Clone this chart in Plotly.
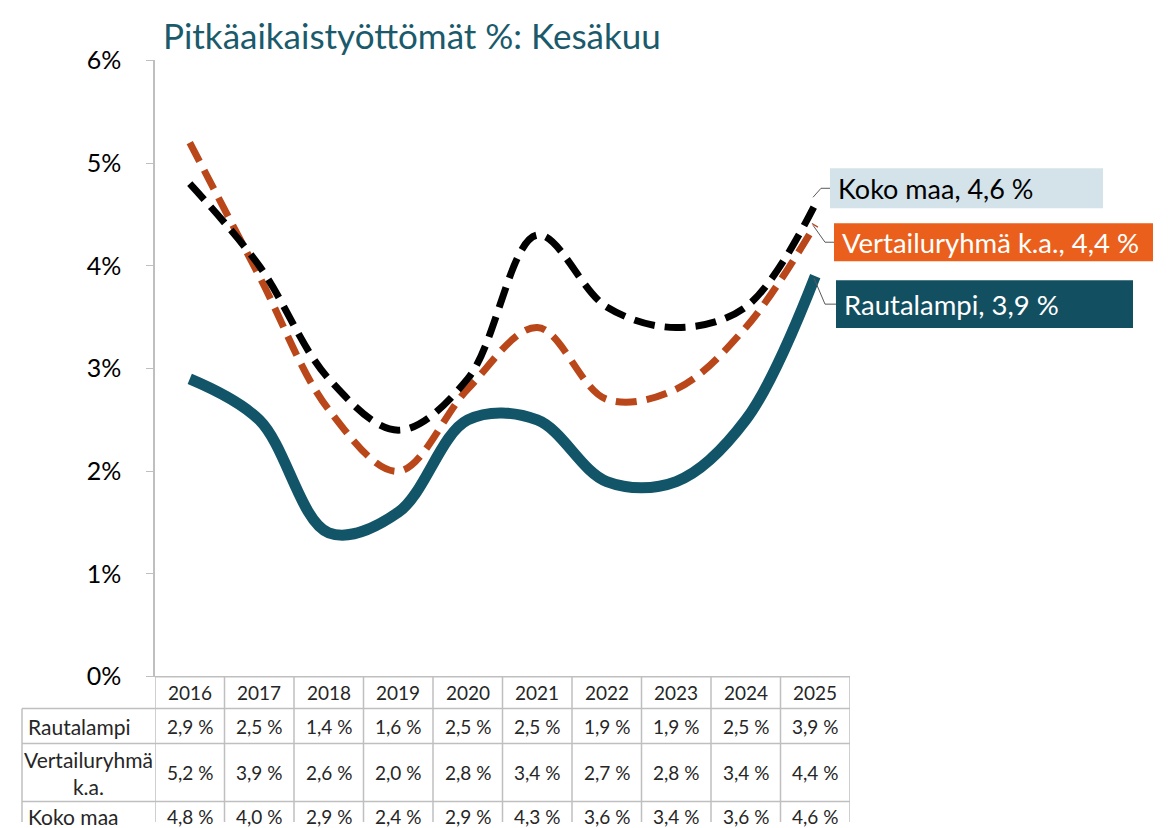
import plotly.graph_objects as go

years = ["2016", "2017", "2018", "2019", "2020", "2021", "2022", "2023", "2024", "2025"]
rautalampi = [2.9, 2.5, 1.4, 1.6, 2.5, 2.5, 1.9, 1.9, 2.5, 3.9]
vertailu = [5.2, 3.9, 2.6, 2.0, 2.8, 3.4, 2.7, 2.8, 3.4, 4.4]
koko_maa = [4.8, 4.0, 2.9, 2.4, 2.9, 4.3, 3.6, 3.4, 3.6, 4.6]
y_ticks = [0, 1, 2, 3, 4, 5, 6]
y_tick_text = ["0%", "1%", "2%", "3%", "4%", "5%", "6%"]

row_names = ["Rautalampi", "Vertailuryhmä<br>k.a.", "Koko maa"]
label_names = ["Rautalampi", "Vertailuryhmä k.a.", "Koko maa"]

W, H = 1168, 828
FONT = "Lato"
TEAL = "#124F60"
ORANGE_LINE = "#B9471A"
ORANGE_BOX = "#EA5F1B"
LIGHT_BOX = "#D4E3EA"
GRID = "#BFBFBF"

# screen-position helpers (page offset compensation)
def PX(x):
    return (x - 8) / W

def PY(y):
    return 1 - ((y - 21.5) / 0.965) / H

def fmt(v):
    return f"{v:.1f}".replace(".", ",") + " %"

idx = list(range(len(years)))

fig = go.Figure()
fig.add_trace(go.Scatter(x=idx, y=rautalampi, mode="lines", name=label_names[0],
                         line=dict(color="#135568", width=11, shape="spline", smoothing=1.0)))
fig.add_trace(go.Scatter(x=idx, y=vertailu, mode="lines", name=label_names[1],
                         line=dict(color=ORANGE_LINE, width=7, shape="spline", smoothing=1.0,
                                   dash="21px,10px")))
fig.add_trace(go.Scatter(x=idx, y=koko_maa, mode="lines", name=label_names[2],
                         line=dict(color="#000000", width=7, shape="spline", smoothing=1.0,
                                   dash="21px,10px")))

shapes = []
annotations = []

rows_y = [675, 707, 742, 800]
shapes.append(dict(type="line", xref="paper", yref="paper", x0=PX(155), x1=PX(850),
                   y0=PY(675), y1=PY(675), line=dict(color=GRID, width=1.5)))
for yy in rows_y[1:]:
    shapes.append(dict(type="line", xref="paper", yref="paper", x0=PX(22), x1=PX(850),
                       y0=PY(yy), y1=PY(yy), line=dict(color=GRID, width=1.5)))
for i in range(len(years) + 1):
    shapes.append(dict(type="line", xref="x", yref="paper", x0=i - 0.5, x1=i - 0.5,
                       y0=PY(675), y1=0, line=dict(color=GRID, width=1.5)))
shapes.append(dict(type="line", xref="paper", yref="paper", x0=PX(22), x1=PX(22),
                   y0=PY(707), y1=0, line=dict(color=GRID, width=1.5)))

tfont = dict(family=FONT, size=19, color="#262626")
lfont = dict(family=FONT, size=21, color="#262626")
for i, yr in enumerate(years):
    annotations.append(dict(x=i, y=PY(691), xref="x", yref="paper", text=yr,
                            showarrow=False, font=tfont, xanchor="center", yanchor="middle"))
series = [rautalampi, vertailu, koko_maa]
row_centers = [724.5, 771, 815]
for r, vals in enumerate(series):
    yc = PY(row_centers[r])
    for i, v in enumerate(vals):
        annotations.append(dict(x=i, y=yc, xref="x", yref="paper", text=fmt(v),
                                showarrow=False, font=tfont, xanchor="center", yanchor="middle"))
    if r == 1:
        annotations.append(dict(x=PX(88), y=yc, xref="paper", yref="paper", text=row_names[r],
                                showarrow=False, font=lfont, xanchor="center", yanchor="middle",
                                align="center"))
    else:
        annotations.append(dict(x=PX(26), y=yc, xref="paper", yref="paper", text=row_names[r],
                                showarrow=False, font=lfont, xanchor="left", yanchor="middle"))

boxes = [
    (label_names[2], koko_maa[-1], 830, 1103, 166, 206, LIGHT_BOX, "#000000", (813, 195), (821, 186)),
    (label_names[1], vertailu[-1], 834, 1153, 221, 259, ORANGE_BOX, "#FFFFFF", (813, 223), (825, 240)),
    (label_names[0], rautalampi[-1], 836, 1133, 278, 326, TEAL, "#FFFFFF", (814, 276), (825, 302)),
]
for name, val, bx0, bx1, by0, by1, bg, fc, p0, p1 in boxes:
    shapes.append(dict(type="rect", xref="paper", yref="paper", x0=PX(bx0), x1=PX(bx1),
                       y0=PY(by1), y1=PY(by0), fillcolor=bg, line=dict(width=0), layer="below"))
    shapes.append(dict(type="path", xref="paper", yref="paper",
                       path=f"M {PX(p0[0])},{PY(p0[1])} L {PX(p1[0])},{PY(p1[1])} L {PX(bx0)},{PY(p1[1])}",
                       line=dict(color="#595959", width=1)))
    annotations.append(dict(x=PX(bx0 + 6), y=PY((by0 + by1) / 2), xref="paper", yref="paper",
                            text=f"{name}, {fmt(val)}", showarrow=False,
                            font=dict(family=FONT, size=27.5 if name != "Koko maa" else 27, color=fc),
                            xanchor="left", yanchor="middle"))

annotations.append(dict(x=PX(161), y=1.0, xref="paper", yref="paper",
                        text="Pitkäaikaistyöttömät %: Kesäkuu", showarrow=False,
                        font=dict(family=FONT, size=35, color="#1A5A6B"),
                        xanchor="left", yanchor="top", yshift=12))

fig.update_layout(
    width=W, height=H,
    margin=dict(l=0, r=0, t=0, b=0),
    paper_bgcolor="white", plot_bgcolor="white",
    showlegend=False,
    shapes=shapes, annotations=annotations,
    xaxis=dict(domain=[PX(155), PX(850)], range=[-0.5, len(years) - 0.5],
               showticklabels=False, showgrid=False, zeroline=False, showline=False,
               fixedrange=True),
    yaxis=dict(domain=[PY(675), PY(58)], range=[0, 6], tickvals=y_ticks,
               ticktext=y_tick_text, showgrid=False, zeroline=False, showline=True,
               linecolor=GRID, linewidth=1.5, ticks="outside", ticklen=7, tickcolor=GRID,
               tickfont=dict(family=FONT, size=25, color="#000000"), ticklabelstandoff=20),
)

fig.write_html("out.html")
